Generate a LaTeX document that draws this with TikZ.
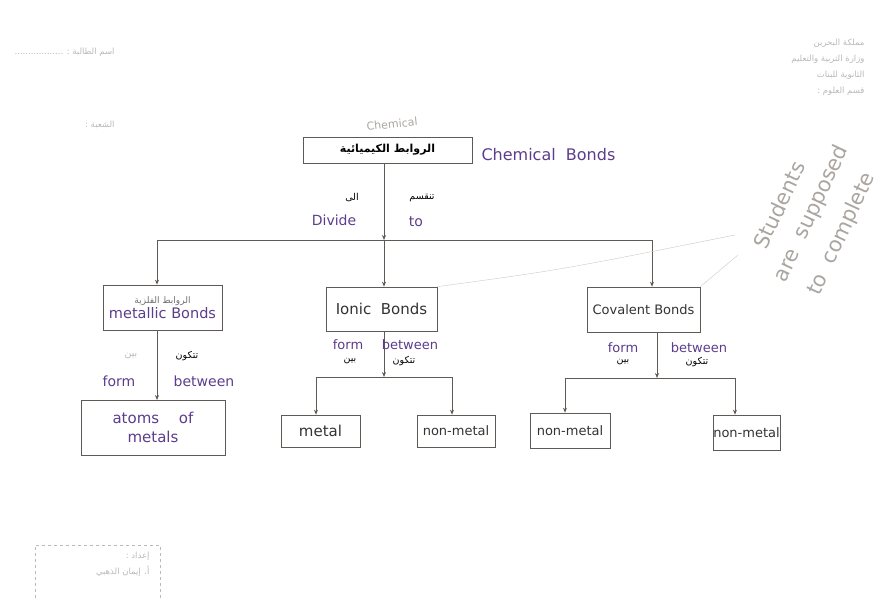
\documentclass[tikz,border=0pt]{standalone}
\usepackage{fontspec}
\newfontfamily\arabicfont[Script=Arabic]{DejaVu Sans}
\newfontfamily\handfont{DejaVu Sans}
\TeXXeTstate=1
\usetikzlibrary{arrows.meta}
\newcommand{\artext}[1]{{\arabicfont\beginR #1\endR}}
\definecolor{inkpurple}{RGB}{92,60,140}
\definecolor{boxgray}{RGB}{95,90,85}
\definecolor{pencilgray}{RGB}{170,165,160}
\definecolor{scangray}{RGB}{185,185,185}

\tikzset{
    bondbox/.style={draw=boxgray, line width=0.7pt, rectangle, inner sep=2pt, align=center},
    handnote/.style={text=inkpurple, font=\handfont\fontsize{13}{15}\selectfont},
    printnote/.style={font=\fontsize{9.5}{10}\selectfont},
    pencilnote/.style={text=pencilgray, font=\handfont\fontsize{11}{13}\selectfont},
    headnote/.style={text=scangray, font=\fontsize{8.5}{16}\selectfont, align=right},
    link/.style={draw=boxgray, line width=0.7pt, -{Stealth[length=5pt,width=4pt]}},
    branch/.style={draw=boxgray, line width=0.7pt},
    faintline/.style={draw=pencilgray!60, line width=0.4pt}
}

\begin{document}
\begin{tikzpicture}[x=1pt, y=-1pt]
    \useasboundingbox (0,0) rectangle (880,599);

    % page header
    \node[headnote, anchor=east] (school) at (868,67) {\artext{مملكة البحرين}\\\artext{وزارة التربية والتعليم}\\\artext{الثانوية للبنات}\\\artext{قسم العلوم :}};
    \node[headnote, anchor=east] (student) at (118,52) {\artext{اسم الطالبة : ..................}};
    \node[headnote, anchor=east] (section) at (118,125) {\artext{الشعبة :}};

    % main concept
    \node[bondbox, minimum width=169pt, minimum height=26pt, font=\bfseries\fontsize{11}{12}\selectfont] (bonds) at (387.5,150) {\artext{الروابط الكيميائية}};
    \node[handnote, anchor=west, font=\handfont\fontsize{16}{18}\selectfont] (bondsEn) at (478,155) {Chemical\ \ Bonds};
    \node[pencilnote, rotate=6] (chemNote) at (392,124) {Chemical};

    \coordinate (split) at (384,240);
    \coordinate (toMetallic) at (157,240);
    \coordinate (toCovalent) at (652,240);
    \draw[link] (bonds.south -| split) -- (split);
    \draw[branch] (toMetallic) -- (toCovalent);
    \node[printnote] (divideAr) at (352,198) {\artext{الى}};
    \node[printnote] (divideAr2) at (422,198) {\artext{تنقسم}};
    \node[handnote, font=\handfont\fontsize{14}{16}\selectfont] (divideEn) at (334,220) {Divide};
    \node[handnote, font=\handfont\fontsize{14}{16}\selectfont] (toEn) at (416,222) {to};

    % three kinds of bonds
    \node[bondbox, minimum width=119pt, minimum height=45pt] (metallic) at (162.5,307.5)
        {{\color{scangray!60!black}\fontsize{9}{10}\selectfont\artext{الروابط الفلزية}}\\[1pt]{\handfont\color{inkpurple}\fontsize{14.5}{16}\selectfont metallic Bonds}};
    \node[bondbox, minimum width=111pt, minimum height=44pt, handnote, text=black!80, font=\handfont\fontsize{15}{17}\selectfont] (ionic) at (381.5,309) {Ionic\ \ Bonds};
    \node[bondbox, minimum width=113pt, minimum height=45pt, handnote, text=black!80] (covalent) at (643.5,309.5) {Covalent Bonds};
    \draw[link] (toMetallic) -- (toMetallic |- metallic.north);
    \draw[link] (split) -- (split |- ionic.north);
    \draw[link] (toCovalent) -- (toCovalent |- covalent.north);

    % metallic bonds
    \coordinate (metalDown) at (157,400);
    \node[bondbox, minimum width=144pt, minimum height=55pt, handnote, align=left, font=\handfont\fontsize{15}{19}\selectfont] (atoms) at (153,427.5) {atoms\quad\ of\\\quad metals};
    \draw[link] (metallic.south -| metalDown) -- (metalDown);
    \node[printnote, text=scangray] (formAr1) at (131,356) {\artext{بين}};
    \node[printnote] (betweenAr1) at (187,356) {\artext{تتكون}};
    \node[handnote, font=\handfont\fontsize{14}{16}\selectfont] (formEn1) at (119,381) {form};
    \node[handnote, font=\handfont\fontsize{14}{16}\selectfont] (betweenEn1) at (204,381) {between};

    % ionic bonds
    \coordinate (ionicSplit) at (384,377);
    \coordinate (toMetal) at (316,377);
    \coordinate (toNonMetalA) at (452,377);
    \node[bondbox, minimum width=79pt, minimum height=32pt, handnote, text=black!80, font=\handfont\fontsize{15}{17}\selectfont] (metal) at (320.5,431) {metal};
    \node[bondbox, minimum width=78pt, minimum height=32pt, handnote, text=black!80] (nonMetalA) at (456,431) {non-metal};
    \draw[link] (ionic.south -| ionicSplit) -- (ionicSplit);
    \draw[branch] (toMetal) -- (toNonMetalA);
    \draw[link] (toMetal) -- (toMetal |- metal.north);
    \draw[link] (toNonMetalA) -- (toNonMetalA |- nonMetalA.north);
    \node[handnote] (formEn2) at (348,345) {form};
    \node[printnote] (formAr2) at (350,361) {\artext{بين}};
    \node[handnote] (betweenEn2) at (410,345) {between};
    \node[printnote] (betweenAr2) at (404,361) {\artext{تتكون}};

    % covalent bonds
    \coordinate (covalentSplit) at (657,378);
    \coordinate (toNonMetalB) at (565,378);
    \coordinate (toNonMetalC) at (735,378);
    \node[bondbox, minimum width=80pt, minimum height=35pt, handnote, text=black!80] (nonMetalB) at (570,430.5) {non-metal};
    \node[bondbox, minimum width=67pt, minimum height=35pt, handnote, text=black!80, inner sep=0pt] (nonMetalC) at (746.5,432.5) {non-metal};
    \draw[link] (covalent.south -| covalentSplit) -- (covalentSplit);
    \draw[branch] (toNonMetalB) -- (toNonMetalC);
    \draw[link] (toNonMetalB) -- (toNonMetalB |- nonMetalB.north);
    \draw[link] (toNonMetalC) -- (toNonMetalC |- nonMetalC.north);
    \node[handnote] (formEn3) at (623,348) {form};
    \node[printnote] (formAr3) at (623,362) {\artext{بين}};
    \node[handnote] (betweenEn3) at (699,348) {between};
    \node[printnote] (betweenAr3) at (697,362) {\artext{تتكون}};

    % pencil note for the students
    \node[pencilnote, rotate=65, font=\handfont\fontsize{21}{24}\selectfont] (noteLineA) at (779,205) {Students};
    \node[pencilnote, rotate=65, font=\handfont\fontsize{21}{24}\selectfont] (noteLineB) at (812,214) {are\ \ supposed};
    \node[pencilnote, rotate=65, font=\handfont\fontsize{21}{24}\selectfont] (noteLineC) at (842,234) {to\ \ complete};
    \coordinate (noteTip) at (735,235);
    \draw[faintline] (ionic.north east) .. controls (560,270) .. (noteTip);
    \draw[faintline] (covalent.north east) -- (738,255);

    % prepared by
    \node[draw=scangray, dashed, minimum width=125pt, minimum height=60pt, anchor=north west] (prepared) at (35,545) {};
    \node[headnote, anchor=north east] (preparedText) at (153,549) {\artext{إعداد :}\\\artext{أ. إيمان الذهبي}};
\end{tikzpicture}
\end{document}
